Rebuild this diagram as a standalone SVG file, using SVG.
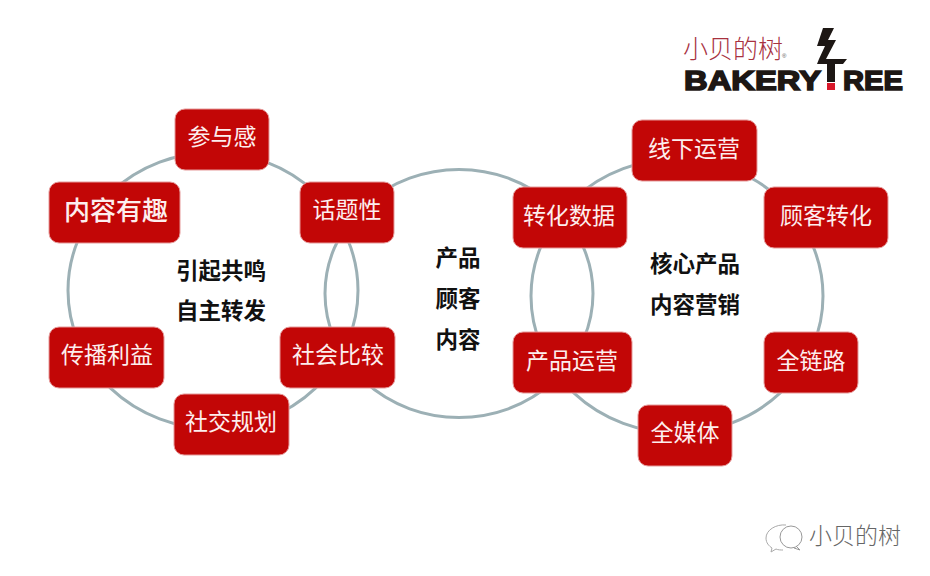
<svg xmlns="http://www.w3.org/2000/svg" width="930" height="576" viewBox="0 0 930 576">
<style>
.ring{fill:none;stroke:#9cb0b5;stroke-width:3}
.box{fill:#c20606;stroke:#e59a9a;stroke-width:1}
.t{font-family:"Noto Sans CJK SC","Liberation Sans",sans-serif;text-anchor:middle}
.w{fill:#fdeeee;font-size:23px}
.b{fill:#111;font-size:22.5px;font-weight:700}
.logo{font-family:"Liberation Sans",Arial,sans-serif;font-weight:700;font-size:28px;fill:#1d1714;stroke:#1d1714;stroke-width:1.6}
</style>
<rect width="930" height="576" fill="#fff"/>
<g id="connectors">
<ellipse class="ring" cx="213" cy="290.5" rx="145" ry="138"/>
<ellipse class="ring" cx="459" cy="293.5" rx="134" ry="124"/>
<ellipse class="ring" cx="677" cy="296" rx="146" ry="137"/>
</g>
<g id="n1"><rect class="box" x="175" y="109" width="94" height="61" rx="10"/><text class="t w" x="222" y="145">参与感</text></g>
<g id="n2"><rect class="box" x="49" y="182" width="131" height="61" rx="10"/><text class="t w" x="116" y="220" style="font-size:26px;font-weight:500">内容有趣</text></g>
<g id="n3"><rect class="box" x="300" y="182" width="94" height="61" rx="10"/><text class="t w" x="347" y="218">话题性</text></g>
<g id="n4"><rect class="box" x="49" y="327" width="115" height="61" rx="10"/><text class="t w" x="107" y="363">传播利益</text></g>
<g id="n5"><rect class="box" x="280" y="327" width="115" height="61" rx="10"/><text class="t w" x="338" y="363">社会比较</text></g>
<g id="n6"><rect class="box" x="174" y="394" width="115" height="61" rx="10"/><text class="t w" x="231" y="430">社交规划</text></g>
<g id="n7"><rect class="box" x="513" y="187" width="114" height="61" rx="10"/><text class="t w" x="569" y="224">转化数据</text></g>
<g id="n8"><rect class="box" x="513" y="332" width="119" height="61" rx="10"/><text class="t w" x="572" y="369">产品运营</text></g>
<g id="n9"><rect class="box" x="632" y="120" width="125" height="61" rx="10"/><text class="t w" x="694" y="157">线下运营</text></g>
<g id="n10"><rect class="box" x="764" y="187" width="124" height="61" rx="10"/><text class="t w" x="826" y="224">顾客转化</text></g>
<g id="n11"><rect class="box" x="764" y="332" width="94" height="61" rx="10"/><text class="t w" x="811" y="369">全链路</text></g>
<g id="n12"><rect class="box" x="638" y="405" width="94" height="61" rx="10"/><text class="t w" x="685" y="441">全媒体</text></g>
<g id="labels">
<text class="t b" x="221" y="279">引起共鸣</text>
<text class="t b" x="221" y="319">自主转发</text>
<text class="t b" x="458" y="266">产品</text>
<text class="t b" x="458" y="307">顾客</text>
<text class="t b" x="458" y="348">内容</text>
<text class="t b" x="695" y="272">核心产品</text>
<text class="t b" x="695" y="313">内容营销</text>
</g>
<g id="logo">
<text x="683" y="58" style="font-family:'Noto Sans CJK SC',sans-serif;font-size:25px;font-weight:300;fill:#a8323f">小贝的树</text>
<text x="782" y="58" style="font-family:'Liberation Sans',sans-serif;font-size:6px;fill:#555">®</text>
<text class="logo" x="684" y="90" textLength="137" lengthAdjust="spacingAndGlyphs">BAKERY</text>
<text class="logo" x="843" y="90" textLength="60" lengthAdjust="spacingAndGlyphs">REE</text>
<path d="M823 28H834L828 40H836L826 59H847L843 64H835V82H827V64H817L819 59L825 46H817Z" fill="#1d1714"/>
<rect x="827" y="83" width="8" height="7" fill="#d8182a"/>
</g>
<g id="watermark">
<path d="M786 525c-10-1-20 5-20 13 0 5 3 8 6 10l-1 4 5-3c2 1 5 1 7 1" fill="none" stroke="#aaa" stroke-width="1"/>
<ellipse cx="791" cy="537" rx="11" ry="11" fill="#fff" stroke="#999" stroke-width="1"/>
<path d="M796 546l4 4-6-2" fill="none" stroke="#999" stroke-width="1"/>
<text x="809" y="544" style="font-family:'Noto Sans CJK SC',sans-serif;font-size:23px;font-weight:300;fill:#666">小贝的树</text>
</g>
</svg>
